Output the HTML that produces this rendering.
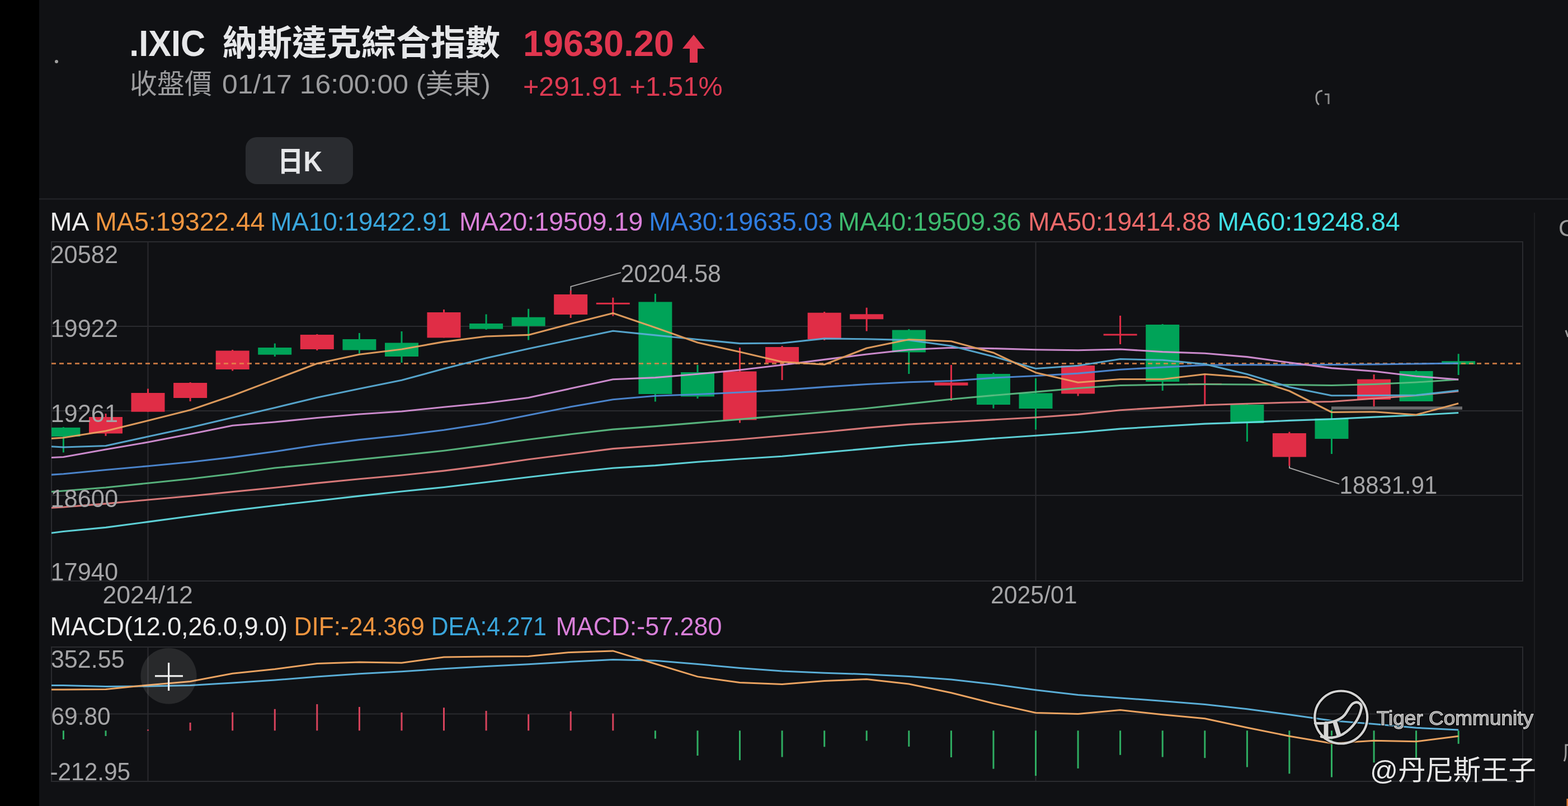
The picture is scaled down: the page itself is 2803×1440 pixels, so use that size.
<!DOCTYPE html>
<html><head><meta charset="utf-8"><title>.IXIC</title>
<style>
html,body{margin:0;padding:0;background:#101114;}
body{width:2803px;height:1440px;overflow:hidden;position:relative;}
#lb{position:absolute;left:0;top:0;width:70px;height:1440px;background:#000;}
svg{position:absolute;left:0;top:0;}
</style></head><body>
<div id="lb"></div>
<svg width="2803" height="1440" viewBox="0 0 2803 1440">
<g stroke="#2a2b2f" stroke-width="2" fill="none">
<rect x="92" y="432" width="2630" height="606"/>
<line x1="92" y1="583" x2="2722" y2="583"/>
<line x1="92" y1="734" x2="2722" y2="734"/>
<line x1="92" y1="885" x2="2722" y2="885"/>
<line x1="264.5" y1="432" x2="264.5" y2="1038"/>
<line x1="1851.5" y1="432" x2="1851.5" y2="1038"/>
<rect x="92" y="1156" width="2630" height="240"/>
<line x1="92" y1="1275.5" x2="2722" y2="1275.5"/>
<line x1="264.5" y1="1156" x2="264.5" y2="1396"/>
<line x1="1851.5" y1="1156" x2="1851.5" y2="1396"/>
</g>
<line x1="70" y1="355.5" x2="2803" y2="355.5" stroke="#25262a" stroke-width="2"/>
<line x1="2743" y1="380" x2="2743" y2="1440" stroke="#1c1d20" stroke-width="2"/>
<defs><clipPath id="cm"><rect x="92" y="432" width="2630" height="606"/></clipPath><clipPath id="cd"><rect x="92" y="1156" width="2630" height="240"/></clipPath></defs>
<g clip-path="url(#cm)">
<rect x="111.9" y="763.0" width="3" height="45.4" fill="#00a358"/>
<rect x="83.4" y="763.9" width="60" height="16.1" fill="#00a358"/>
<rect x="187.5" y="739.0" width="3" height="39.8" fill="#e02d46"/>
<rect x="159.0" y="745.0" width="60" height="29.5" fill="#e02d46"/>
<rect x="263.0" y="694.5" width="3" height="41.2" fill="#e02d46"/>
<rect x="234.5" y="702.0" width="60" height="33.7" fill="#e02d46"/>
<rect x="338.6" y="683.0" width="3" height="34.0" fill="#e02d46"/>
<rect x="310.1" y="684.0" width="60" height="27.0" fill="#e02d46"/>
<rect x="414.2" y="625.0" width="3" height="37.5" fill="#e02d46"/>
<rect x="385.7" y="626.5" width="60" height="33.5" fill="#e02d46"/>
<rect x="489.8" y="613.6" width="3" height="23.4" fill="#00a358"/>
<rect x="461.2" y="621.0" width="60" height="12.7" fill="#00a358"/>
<rect x="565.3" y="597.0" width="3" height="29.0" fill="#e02d46"/>
<rect x="536.8" y="598.0" width="60" height="26.0" fill="#e02d46"/>
<rect x="640.9" y="595.0" width="3" height="36.5" fill="#00a358"/>
<rect x="612.4" y="606.0" width="60" height="19.5" fill="#00a358"/>
<rect x="716.5" y="592.0" width="3" height="56.0" fill="#00a358"/>
<rect x="688.0" y="612.5" width="60" height="24.5" fill="#00a358"/>
<rect x="792.0" y="553.0" width="3" height="50.4" fill="#e02d46"/>
<rect x="763.5" y="558.0" width="60" height="45.4" fill="#e02d46"/>
<rect x="867.6" y="561.5" width="3" height="27.5" fill="#00a358"/>
<rect x="839.1" y="578.0" width="60" height="9.7" fill="#00a358"/>
<rect x="943.2" y="551.8" width="3" height="55.7" fill="#00a358"/>
<rect x="914.7" y="566.7" width="60" height="15.9" fill="#00a358"/>
<rect x="1018.7" y="519.0" width="3" height="49.0" fill="#e02d46"/>
<rect x="990.2" y="526.0" width="60" height="36.0" fill="#e02d46"/>
<rect x="1094.3" y="531.7" width="3" height="32.9" fill="#e02d46"/>
<rect x="1065.8" y="540.8" width="60" height="3.0" fill="#e02d46"/>
<rect x="1169.9" y="524.8" width="3" height="192.7" fill="#00a358"/>
<rect x="1141.4" y="539.4" width="60" height="164.6" fill="#00a358"/>
<rect x="1245.5" y="652.0" width="3" height="60.0" fill="#00a358"/>
<rect x="1217.0" y="665.0" width="60" height="43.5" fill="#00a358"/>
<rect x="1321.0" y="621.0" width="3" height="134.5" fill="#e02d46"/>
<rect x="1292.5" y="663.5" width="60" height="86.9" fill="#e02d46"/>
<rect x="1396.6" y="618.0" width="3" height="61.0" fill="#e02d46"/>
<rect x="1368.1" y="620.0" width="60" height="28.0" fill="#e02d46"/>
<rect x="1472.2" y="557.0" width="3" height="51.0" fill="#e02d46"/>
<rect x="1443.7" y="558.7" width="60" height="47.3" fill="#e02d46"/>
<rect x="1547.7" y="549.7" width="3" height="41.9" fill="#e02d46"/>
<rect x="1519.2" y="561.3" width="60" height="9.0" fill="#e02d46"/>
<rect x="1623.3" y="588.0" width="3" height="80.0" fill="#00a358"/>
<rect x="1594.8" y="589.6" width="60" height="39.8" fill="#00a358"/>
<rect x="1698.9" y="652.0" width="3" height="64.0" fill="#e02d46"/>
<rect x="1670.4" y="683.3" width="60" height="5.4" fill="#e02d46"/>
<rect x="1774.4" y="666.0" width="3" height="63.6" fill="#00a358"/>
<rect x="1745.9" y="668.0" width="60" height="55.0" fill="#00a358"/>
<rect x="1850.0" y="676.0" width="3" height="91.5" fill="#00a358"/>
<rect x="1821.5" y="702.4" width="60" height="27.6" fill="#00a358"/>
<rect x="1925.6" y="652.0" width="3" height="55.5" fill="#e02d46"/>
<rect x="1897.1" y="653.0" width="60" height="50.4" fill="#e02d46"/>
<rect x="2001.1" y="564.0" width="3" height="51.0" fill="#e02d46"/>
<rect x="1972.6" y="596.5" width="60" height="3.0" fill="#e02d46"/>
<rect x="2076.7" y="579.0" width="3" height="119.0" fill="#00a358"/>
<rect x="2048.2" y="580.0" width="60" height="102.0" fill="#00a358"/>
<rect x="2152.3" y="669.5" width="3" height="53.5" fill="#e02d46"/>
<rect x="2123.8" y="684.8" width="60" height="3.0" fill="#e02d46"/>
<rect x="2227.9" y="722.0" width="3" height="67.0" fill="#00a358"/>
<rect x="2199.4" y="723.0" width="60" height="33.0" fill="#00a358"/>
<rect x="2303.4" y="771.6" width="3" height="60.9" fill="#e02d46"/>
<rect x="2274.9" y="774.0" width="60" height="42.4" fill="#e02d46"/>
<rect x="2379.0" y="732.0" width="3" height="79.0" fill="#00a358"/>
<rect x="2350.5" y="747.7" width="60" height="36.3" fill="#00a358"/>
<rect x="2454.6" y="669.0" width="3" height="57.0" fill="#e02d46"/>
<rect x="2426.1" y="677.6" width="60" height="36.4" fill="#e02d46"/>
<rect x="2530.1" y="661.7" width="3" height="55.3" fill="#00a358"/>
<rect x="2501.6" y="663.0" width="60" height="54.0" fill="#00a358"/>
<rect x="2605.7" y="632.2" width="3" height="37.8" fill="#00a358"/>
<rect x="2577.2" y="645.2" width="60" height="5.8" fill="#00a358"/>
</g>
<line x1="92" y1="649.5" x2="2721" y2="649.5" stroke="#e8894a" stroke-width="3" stroke-dasharray="8 6" opacity="0.8"/>
<rect x="2380" y="726.3" width="234" height="5.5" fill="#6a6a6c"/>
<g clip-path="url(#cm)" fill="none" stroke-width="3.1" stroke-linejoin="round" opacity="0.93">
<polyline points="37.8,959.0 113.4,949.5 189.0,942.4 264.5,932.4 340.1,922.2 415.7,912.1 491.2,903.2 566.8,894.7 642.4,886.1 718.0,878.0 793.5,870.5 869.1,861.5 944.7,852.5 1020.2,843.8 1095.8,836.2 1171.4,831.6 1247.0,825.3 1322.5,820.0 1398.1,815.2 1473.7,808.4 1549.2,801.6 1624.8,794.8 1700.4,789.4 1775.9,783.4 1851.5,778.2 1927.1,772.8 2002.6,766.1 2078.2,761.5 2153.8,757.1 2229.4,754.6 2304.9,751.4 2380.5,748.7 2456.1,745.1 2531.6,741.7 2607.2,737.5" stroke="#63dee4"/>
<polyline points="37.8,910.2 113.4,906.0 189.0,899.9 264.5,893.0 340.1,886.3 415.7,878.6 491.2,871.3 566.8,863.1 642.4,855.8 718.0,849.0 793.5,841.1 869.1,831.6 944.7,820.7 1020.2,811.2 1095.8,801.6 1171.4,796.2 1247.0,790.7 1322.5,785.0 1398.1,778.5 1473.7,771.7 1549.2,764.4 1624.8,758.1 1700.4,754.0 1775.9,749.9 1851.5,745.8 1927.1,740.4 2002.6,732.7 2078.2,728.1 2153.8,723.7 2229.4,721.2 2304.9,719.0 2380.5,717.5 2456.1,712.0 2531.6,706.5 2607.2,699.0" stroke="#e58080"/>
<polyline points="37.8,882.4 113.4,877.0 189.0,871.0 264.5,863.2 340.1,855.5 415.7,846.5 491.2,836.0 566.8,828.7 642.4,820.9 718.0,813.3 793.5,805.2 869.1,795.4 944.7,785.3 1020.2,775.8 1095.8,767.1 1171.4,761.6 1247.0,755.4 1322.5,749.1 1398.1,742.6 1473.7,736.3 1549.2,729.5 1624.8,721.4 1700.4,713.2 1775.9,706.4 1851.5,700.1 1927.1,693.5 2002.6,688.5 2078.2,687.2 2153.8,686.5 2229.4,687.0 2304.9,687.5 2380.5,688.5 2456.1,686.5 2531.6,683.0 2607.2,678.0" stroke="#5cbd83"/>
<polyline points="37.8,851.6 113.4,846.8 189.0,839.5 264.5,832.7 340.1,825.5 415.7,816.9 491.2,806.7 566.8,795.3 642.4,785.6 718.0,777.7 793.5,768.2 869.1,756.7 944.7,741.8 1020.2,726.8 1095.8,713.7 1171.4,707.2 1247.0,704.5 1322.5,701.0 1398.1,696.9 1473.7,691.4 1549.2,686.5 1624.8,682.7 1700.4,680.5 1775.9,675.1 1851.5,671.5 1927.1,667.1 2002.6,660.3 2078.2,656.1 2153.8,652.3 2229.4,651.8 2304.9,652.0 2380.5,651.5 2456.1,651.0 2531.6,650.0 2607.2,649.0" stroke="#4f8cd8"/>
<polyline points="37.8,819.8 113.4,816.5 189.0,803.0 264.5,790.0 340.1,775.5 415.7,760.3 491.2,754.0 566.8,746.5 642.4,740.0 718.0,735.0 793.5,727.3 869.1,720.0 944.7,710.5 1020.2,694.1 1095.8,677.8 1171.4,674.6 1247.0,668.3 1322.5,661.0 1398.1,652.0 1473.7,642.4 1549.2,633.0 1624.8,624.8 1700.4,621.2 1775.9,622.6 1851.5,624.8 1927.1,625.8 2002.6,624.0 2078.2,628.6 2153.8,631.2 2229.4,637.6 2304.9,647.8 2380.5,657.6 2456.1,663.3 2531.6,672.2 2607.2,678.0" stroke="#d993d9"/>
<polyline points="37.8,794.7 113.4,799.0 189.0,796.5 264.5,780.1 340.1,763.8 415.7,746.1 491.2,728.4 566.8,710.2 642.4,694.4 718.0,679.3 793.5,658.8 869.1,639.7 944.7,622.9 1020.2,607.0 1095.8,591.3 1171.4,598.9 1247.0,606.5 1322.5,613.6 1398.1,613.0 1473.7,604.9 1549.2,605.7 1624.8,607.6 1700.4,618.0 1775.9,637.0 1851.5,658.5 1927.1,653.2 2002.6,641.5 2078.2,643.3 2153.8,650.5 2229.4,668.5 2304.9,691.4 2380.5,706.8 2456.1,706.5 2531.6,706.0 2607.2,697.6" stroke="#5aaed7"/>
<polyline points="37.8,787.0 113.4,782.0 189.0,770.0 264.5,751.6 340.1,732.5 415.7,706.7 491.2,678.1 566.8,649.5 642.4,633.2 718.0,624.0 793.5,610.6 869.1,601.0 944.7,598.4 1020.2,578.5 1095.8,559.5 1171.4,585.3 1247.0,612.0 1322.5,628.8 1398.1,646.5 1473.7,651.2 1549.2,622.0 1624.8,606.5 1700.4,609.8 1775.9,630.2 1851.5,665.7 1927.1,683.3 2002.6,677.5 2078.2,677.5 2153.8,668.5 2229.4,674.1 2304.9,698.5 2380.5,736.5 2456.1,735.7 2531.6,741.0 2607.2,720.8" stroke="#eaa361"/>
</g>
<g stroke="#a0a0a0" stroke-width="2" fill="none">
<polyline points="1020.4,519 1020.4,512 1110,487"/>
<polyline points="2305,832.5 2305,836 2394,864.7"/>
</g>
<g clip-path="url(#cd)">
<rect x="111.9" y="1305.3" width="3" height="15.7" fill="#2fae62"/>
<rect x="187.5" y="1305.3" width="3" height="9.7" fill="#2fae62"/>
<rect x="263.0" y="1303.5" width="3" height="2.0" fill="#d8435c"/>
<rect x="338.6" y="1291.0" width="3" height="14.3" fill="#d8435c"/>
<rect x="414.2" y="1272.7" width="3" height="32.6" fill="#d8435c"/>
<rect x="489.8" y="1266.8" width="3" height="38.5" fill="#d8435c"/>
<rect x="565.3" y="1258.1" width="3" height="47.2" fill="#d8435c"/>
<rect x="640.9" y="1263.0" width="3" height="42.3" fill="#d8435c"/>
<rect x="716.5" y="1273.0" width="3" height="32.3" fill="#d8435c"/>
<rect x="792.0" y="1264.3" width="3" height="41.0" fill="#d8435c"/>
<rect x="867.6" y="1270.0" width="3" height="35.3" fill="#d8435c"/>
<rect x="943.2" y="1276.2" width="3" height="29.1" fill="#d8435c"/>
<rect x="1018.7" y="1271.0" width="3" height="34.3" fill="#d8435c"/>
<rect x="1094.3" y="1274.7" width="3" height="30.6" fill="#d8435c"/>
<rect x="1169.9" y="1305.3" width="3" height="14.4" fill="#2fae62"/>
<rect x="1245.5" y="1305.3" width="3" height="44.7" fill="#2fae62"/>
<rect x="1321.0" y="1305.3" width="3" height="52.9" fill="#2fae62"/>
<rect x="1396.6" y="1305.3" width="3" height="47.2" fill="#2fae62"/>
<rect x="1472.2" y="1305.3" width="3" height="29.0" fill="#2fae62"/>
<rect x="1547.7" y="1305.3" width="3" height="18.1" fill="#2fae62"/>
<rect x="1623.3" y="1305.3" width="3" height="28.6" fill="#2fae62"/>
<rect x="1698.9" y="1305.3" width="3" height="47.7" fill="#2fae62"/>
<rect x="1774.4" y="1305.3" width="3" height="68.3" fill="#2fae62"/>
<rect x="1850.0" y="1305.3" width="3" height="80.7" fill="#2fae62"/>
<rect x="1925.6" y="1305.3" width="3" height="67.6" fill="#2fae62"/>
<rect x="2001.1" y="1305.3" width="3" height="43.5" fill="#2fae62"/>
<rect x="2076.7" y="1305.3" width="3" height="47.2" fill="#2fae62"/>
<rect x="2152.3" y="1305.3" width="3" height="48.9" fill="#2fae62"/>
<rect x="2227.9" y="1305.3" width="3" height="65.2" fill="#2fae62"/>
<rect x="2303.4" y="1305.3" width="3" height="77.0" fill="#2fae62"/>
<rect x="2379.0" y="1305.3" width="3" height="83.2" fill="#2fae62"/>
<rect x="2454.6" y="1305.3" width="3" height="57.1" fill="#2fae62"/>
<rect x="2530.1" y="1305.3" width="3" height="48.4" fill="#2fae62"/>
<rect x="2605.7" y="1305.3" width="3" height="23.6" fill="#2fae62"/>
<polyline points="37.8,1224.4 113.4,1224.4 189.0,1226.5 264.5,1226.0 340.1,1224.4 415.7,1220.0 491.2,1215.0 566.8,1208.9 642.4,1203.7 718.0,1199.7 793.5,1194.7 869.1,1190.5 944.7,1186.8 1020.2,1182.3 1095.8,1178.6 1171.4,1180.3 1247.0,1186.5 1322.5,1193.5 1398.1,1199.0 1473.7,1202.2 1549.2,1204.7 1624.8,1208.4 1700.4,1214.1 1775.9,1222.5 1851.5,1232.7 1927.1,1241.4 2002.6,1246.9 2078.2,1252.6 2153.8,1258.6 2229.4,1266.8 2304.9,1276.7 2380.5,1287.4 2456.1,1293.6 2531.6,1300.3 2607.2,1304.0" fill="none" stroke="#5aaed7" stroke-width="3"/>
<polyline points="37.8,1232.0 113.4,1232.0 189.0,1231.6 264.5,1223.9 340.1,1217.5 415.7,1203.3 491.2,1195.6 566.8,1185.5 642.4,1183.0 718.0,1184.3 793.5,1174.1 869.1,1172.9 944.7,1172.4 1020.2,1165.4 1095.8,1162.9 1171.4,1186.0 1247.0,1208.9 1322.5,1219.6 1398.1,1222.5 1473.7,1216.6 1549.2,1213.4 1624.8,1222.0 1700.4,1237.8 1775.9,1256.8 1851.5,1273.5 1927.1,1275.5 2002.6,1268.5 2078.2,1276.7 2153.8,1283.7 2229.4,1300.0 2304.9,1315.2 2380.5,1328.1 2456.1,1323.2 2531.6,1324.7 2607.2,1315.2" fill="none" stroke="#eaa361" stroke-width="3"/>
</g>
<circle cx="301.5" cy="1207.7" r="50" fill="#ffffff" fill-opacity="0.1"/>
<rect x="277" y="1206.2" width="50" height="3.2" fill="#f2f2f2"/>
<rect x="300" y="1184" width="3.2" height="50" fill="#f2f2f2"/>
<polygon points="1240,62 1260,87 1247,87 1247,112 1233,112 1233,87 1220,87" fill="#e0364f"/>
<rect x="439" y="245" width="192" height="84" rx="20" fill="#2a2c30"/>
<g fill="none" stroke-linecap="round">
<circle cx="2397.3" cy="1281.5" r="47" stroke="#000" stroke-opacity="0.55" stroke-width="8"/>
<path d="M2351,1292 C2375,1294 2395,1288 2404,1277 C2411,1268 2413,1259 2420,1256 C2428,1252 2436,1258 2433,1268 C2430,1282 2420,1300 2400,1312 C2388,1318 2375,1320 2362,1316" stroke="#000" stroke-opacity="0.55" stroke-width="8"/>
<line x1="2370.5" y1="1293" x2="2370.5" y2="1317" stroke="#000" stroke-opacity="0.5" stroke-width="11"/>
<line x1="2387.5" y1="1292" x2="2393" y2="1311" stroke="#000" stroke-opacity="0.5" stroke-width="11"/>
<circle cx="2397.3" cy="1281.5" r="47" stroke="#d4d4d4" stroke-width="4.2"/>
<path d="M2351,1292 C2375,1294 2395,1288 2404,1277 C2411,1268 2413,1259 2420,1256 C2428,1252 2436,1258 2433,1268 C2430,1282 2420,1300 2400,1312 C2388,1318 2375,1320 2362,1316" stroke="#d4d4d4" stroke-width="4.6"/>
<line x1="2370.5" y1="1293" x2="2370.5" y2="1318" stroke="#d4d4d4" stroke-width="8"/>
<line x1="2387" y1="1292" x2="2393" y2="1312" stroke="#d4d4d4" stroke-width="8"/>
</g>
<path d="M2364,162 Q2353,163 2353,174 Q2353,184 2358,187" stroke="#9a9a9a" stroke-width="3" fill="none"/>
<path d="M2368,168.5 L2375,168.5 L2375,186" stroke="#8a8a8a" stroke-width="3" fill="none"/>
<text x="231.2" y="100.0" font-family="'Liberation Sans', 'Noto Sans CJK TC', sans-serif" font-weight="bold" font-size="64" fill="#e6e7e9" textLength="136.0" lengthAdjust="spacingAndGlyphs">.IXIC</text>
<text x="398.0" y="99.0" font-family="'Noto Sans CJK TC', sans-serif" font-weight="bold" font-size="62" fill="#e6e7e9" textLength="496.0" lengthAdjust="spacingAndGlyphs">納斯達克綜合指數</text>
<text x="935.0" y="100.0" font-family="'Liberation Sans', 'Noto Sans CJK TC', sans-serif" font-weight="bold" font-size="64" fill="#e0364f" textLength="270.0" lengthAdjust="spacingAndGlyphs">19630.20</text>
<text x="232.0" y="167.0" font-family="'Noto Sans CJK TC', sans-serif" font-weight="normal" font-size="49" fill="#9c9c9e" textLength="147.0" lengthAdjust="spacingAndGlyphs">收盤價</text>
<text x="397.0" y="167.0" font-family="'Liberation Sans', 'Noto Sans CJK TC', sans-serif" font-weight="normal" font-size="49" fill="#9c9c9e" textLength="479.8" lengthAdjust="spacingAndGlyphs">01/17 16:00:00 (美東)</text>
<text x="935.0" y="171.0" font-family="'Liberation Sans', 'Noto Sans CJK TC', sans-serif" font-weight="normal" font-size="49" fill="#dc3a52" textLength="356.6" lengthAdjust="spacingAndGlyphs">+291.91 +1.51%</text>
<text x="496.0" y="306.0" font-family="'Liberation Sans', 'Noto Sans CJK TC', sans-serif" font-weight="bold" font-size="50" fill="#e6e7e9" textLength="80.1" lengthAdjust="spacingAndGlyphs">日K</text>
<text x="89.4" y="412.0" font-family="'Liberation Sans', 'Noto Sans CJK TC', sans-serif" font-weight="normal" font-size="46.6" fill="#ececec" textLength="70.1" lengthAdjust="spacingAndGlyphs">MA</text>
<text x="169.9" y="412.0" font-family="'Liberation Sans', 'Noto Sans CJK TC', sans-serif" font-weight="normal" font-size="46.6" fill="#f0953f" textLength="303.7" lengthAdjust="spacingAndGlyphs">MA5:19322.44</text>
<text x="483.5" y="412.0" font-family="'Liberation Sans', 'Noto Sans CJK TC', sans-serif" font-weight="normal" font-size="46.6" fill="#3aa6dc" textLength="322.7" lengthAdjust="spacingAndGlyphs">MA10:19422.91</text>
<text x="820.9" y="412.0" font-family="'Liberation Sans', 'Noto Sans CJK TC', sans-serif" font-weight="normal" font-size="46.6" fill="#da80da" textLength="328.5" lengthAdjust="spacingAndGlyphs">MA20:19509.19</text>
<text x="1160.3" y="412.0" font-family="'Liberation Sans', 'Noto Sans CJK TC', sans-serif" font-weight="normal" font-size="46.6" fill="#2f7de0" textLength="328.1" lengthAdjust="spacingAndGlyphs">MA30:19635.03</text>
<text x="1498.3" y="412.0" font-family="'Liberation Sans', 'Noto Sans CJK TC', sans-serif" font-weight="normal" font-size="46.6" fill="#3dba6e" textLength="327.2" lengthAdjust="spacingAndGlyphs">MA40:19509.36</text>
<text x="1838.0" y="412.0" font-family="'Liberation Sans', 'Noto Sans CJK TC', sans-serif" font-weight="normal" font-size="46.6" fill="#ec6a6a" textLength="326.6" lengthAdjust="spacingAndGlyphs">MA50:19414.88</text>
<text x="2176.5" y="412.0" font-family="'Liberation Sans', 'Noto Sans CJK TC', sans-serif" font-weight="normal" font-size="46.6" fill="#40e0e6" textLength="326.2" lengthAdjust="spacingAndGlyphs">MA60:19248.84</text>
<text x="89.5" y="1134.6" font-family="'Liberation Sans', 'Noto Sans CJK TC', sans-serif" font-weight="normal" font-size="46.6" fill="#ececec" textLength="424.4" lengthAdjust="spacingAndGlyphs">MACD(12.0,26.0,9.0)</text>
<text x="525.5" y="1134.6" font-family="'Liberation Sans', 'Noto Sans CJK TC', sans-serif" font-weight="normal" font-size="46.6" fill="#f0953f" textLength="233.4" lengthAdjust="spacingAndGlyphs">DIF:-24.369</text>
<text x="770.7" y="1134.6" font-family="'Liberation Sans', 'Noto Sans CJK TC', sans-serif" font-weight="normal" font-size="46.6" fill="#3aa6dc" textLength="206.4" lengthAdjust="spacingAndGlyphs">DEA:4.271</text>
<text x="993.4" y="1134.6" font-family="'Liberation Sans', 'Noto Sans CJK TC', sans-serif" font-weight="normal" font-size="46.6" fill="#da80da" textLength="297.2" lengthAdjust="spacingAndGlyphs">MACD:-57.280</text>
<text x="90.5" y="470.0" font-family="'Liberation Sans', 'Noto Sans CJK TC', sans-serif" font-weight="normal" font-size="43.5" fill="#a5a5a7" textLength="120.5" lengthAdjust="spacingAndGlyphs">20582</text>
<text x="90.5" y="602.0" font-family="'Liberation Sans', 'Noto Sans CJK TC', sans-serif" font-weight="normal" font-size="43.5" fill="#a5a5a7" textLength="120.5" lengthAdjust="spacingAndGlyphs">19922</text>
<text x="90.5" y="754.0" font-family="'Liberation Sans', 'Noto Sans CJK TC', sans-serif" font-weight="normal" font-size="43.5" fill="#a5a5a7" textLength="120.5" lengthAdjust="spacingAndGlyphs">19261</text>
<text x="90.5" y="905.5" font-family="'Liberation Sans', 'Noto Sans CJK TC', sans-serif" font-weight="normal" font-size="43.5" fill="#a5a5a7" textLength="120.5" lengthAdjust="spacingAndGlyphs">18600</text>
<text x="90.5" y="1036.5" font-family="'Liberation Sans', 'Noto Sans CJK TC', sans-serif" font-weight="normal" font-size="43.5" fill="#a5a5a7" textLength="120.5" lengthAdjust="spacingAndGlyphs">17940</text>
<text x="183.4" y="1078.0" font-family="'Liberation Sans', 'Noto Sans CJK TC', sans-serif" font-weight="normal" font-size="43.5" fill="#a5a5a7" textLength="161.6" lengthAdjust="spacingAndGlyphs">2024/12</text>
<text x="1771.1" y="1078.0" font-family="'Liberation Sans', 'Noto Sans CJK TC', sans-serif" font-weight="normal" font-size="43.5" fill="#a5a5a7" textLength="154.3" lengthAdjust="spacingAndGlyphs">2025/01</text>
<text x="1109.6" y="504.0" font-family="'Liberation Sans', 'Noto Sans CJK TC', sans-serif" font-weight="normal" font-size="43.5" fill="#a5a5a7" textLength="179.4" lengthAdjust="spacingAndGlyphs">20204.58</text>
<text x="2394.6" y="882.0" font-family="'Liberation Sans', 'Noto Sans CJK TC', sans-serif" font-weight="normal" font-size="43.5" fill="#a5a5a7" textLength="174.7" lengthAdjust="spacingAndGlyphs">18831.91</text>
<text x="90.9" y="1193.0" font-family="'Liberation Sans', 'Noto Sans CJK TC', sans-serif" font-weight="normal" font-size="43.5" fill="#a5a5a7" textLength="131.7" lengthAdjust="spacingAndGlyphs">352.55</text>
<text x="91.5" y="1294.5" font-family="'Liberation Sans', 'Noto Sans CJK TC', sans-serif" font-weight="normal" font-size="43.5" fill="#a5a5a7" textLength="106.1" lengthAdjust="spacingAndGlyphs">69.80</text>
<text x="89.4" y="1394.0" font-family="'Liberation Sans', 'Noto Sans CJK TC', sans-serif" font-weight="normal" font-size="43.5" fill="#a5a5a7" textLength="143.8" lengthAdjust="spacingAndGlyphs">-212.95</text>
<text x="2460.8" y="1295.3" font-family="'Liberation Sans', 'Noto Sans CJK TC', sans-serif" font-size="35" fill="none" stroke="#000" stroke-opacity="0.6" stroke-width="4" textLength="280.3" lengthAdjust="spacingAndGlyphs">Tiger Community</text>
<text x="2460.8" y="1295.3" font-family="'Liberation Sans', 'Noto Sans CJK TC', sans-serif" font-size="35" fill="#8e8e8e" stroke="#d6d6d6" stroke-width="1.3" textLength="280.3" lengthAdjust="spacingAndGlyphs">Tiger Community</text>
<text x="2449.1" y="1393" font-family="'Liberation Sans', 'Noto Sans CJK TC', sans-serif" font-size="49" fill="#e8e8e8" textLength="296.7" lengthAdjust="spacingAndGlyphs">@丹尼斯王子</text>
<text x="2786" y="422" font-size="42" fill="#9a9a9a" font-family="'Liberation Sans', 'Noto Sans CJK TC', sans-serif">C</text>
<circle cx="101" cy="110" r="3" fill="#a0a0a0"/>
<path d="M2803,1331 L2799,1331 L2799,1345 Q2799,1355 2796,1360" stroke="#9a9a9a" stroke-width="3" fill="none"/>
<rect x="2800.5" y="1427" width="3" height="13" fill="#e07830"/>
<path d="M2799,590 L2803,602" stroke="#9a9a9a" stroke-width="3" fill="none"/>
</svg>
</body></html>
